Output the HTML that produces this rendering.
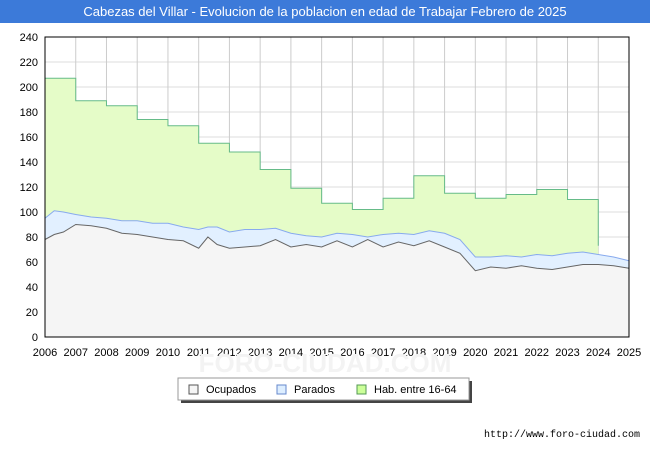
<!DOCTYPE html>
<html><head><meta charset="utf-8"><style>
body{margin:0;width:650px;height:450px;background:#fff;font-family:"Liberation Sans",sans-serif;overflow:hidden}
</style></head><body>
<svg width="650" height="450" xmlns="http://www.w3.org/2000/svg">
<rect x="0" y="0" width="650" height="23" fill="#3c7ad9"/>
<text x="325" y="16" text-anchor="middle" font-size="13" fill="#fff" font-family="Liberation Sans">Cabezas del Villar - Evolucion de la poblacion en edad de Trabajar Febrero de 2025</text>
<g id="grid"></g>
<g id="series"></g>
<g id="axes"></g>
<text x="325" y="372" text-anchor="middle" font-size="26" fill="#f3f3f3" font-weight="bold">FORO-CIUDAD.COM</text>
<rect x="181" y="381" width="291" height="22" fill="#444"/>
<g>
<rect x="178" y="378" width="291" height="22" fill="#fff" stroke="#999"/>
<rect x="189" y="385" width="9" height="9" fill="#f5f5f5" stroke="#555"/>
<text x="206" y="393" font-size="11" fill="#000">Ocupados</text>
<rect x="277" y="385" width="9" height="9" fill="#ddeeff" stroke="#6688cc"/>
<text x="294" y="393" font-size="11" fill="#000">Parados</text>
<rect x="357" y="385" width="9" height="9" fill="#ccff99" stroke="#559955"/>
<text x="374" y="393" font-size="11" fill="#000">Hab. entre 16-64</text>
</g>
<text x="640" y="437" text-anchor="end" font-size="10" fill="#000" font-family="Liberation Mono">http://www.foro-ciudad.com</text>
</svg>
<script>
const years=[2006,2007,2008,2009,2010,2011,2012,2013,2014,2015,2016,2017,2018,2019,2020,2021,2022,2023];
const habValues=[207,189,185,174,169,155,148,134,119,107,102,111,129,115,111,114,118,110];
const habEndValue=73;
const sampleTimes=[2006,2006.3,2006.6,2007,2007.5,2008,2008.5,2009,2009.5,2010,2010.5,2011,2011.3,2011.6,2012,2012.5,2013,2013.5,2014,2014.5,2015,2015.5,2016,2016.5,2017,2017.5,2018,2018.5,2019,2019.5,2020,2020.5,2021,2021.5,2022,2022.5,2023,2023.5,2024,2024.5,2025];
const ocupados=[78,82,84,90,89,87,83,82,80,78,77,71,80,74,71,72,73,78,72,74,72,77,72,78,72,76,73,77,72,67,53,56,55,57,55,54,56,58,58,57,55];
const parados=[17,19,16,8,7,8,10,11,11,13,11,15,8,14,13,14,13,9,11,7,8,6,10,2,10,7,9,8,11,11,11,8,10,7,11,11,11,10,8,7,6];
const yTicks=[0,20,40,60,80,100,120,140,160,180,200,220,240];
const xTickYears=[2006,2007,2008,2009,2010,2011,2012,2013,2014,2015,2016,2017,2018,2019,2020,2021,2022,2023,2024,2025];
const NS="http://www.w3.org/2000/svg";
const X0=45,X1=629,Y0=337,Y1=37;
const xs=t=>X0+(t-2006)*(X1-X0)/19;
const ys=v=>Y0-v*(Y0-Y1)/240;
function mk(tag,attrs,parent){const e=document.createElementNS(NS,tag);for(const k in attrs)e.setAttribute(k,attrs[k]);parent.appendChild(e);return e;}
const grid=document.getElementById('grid'),ser=document.getElementById('series'),ax=document.getElementById('axes');
yTicks.forEach(v=>{const l=mk('line',{x1:X0,x2:X1,y1:ys(v),y2:ys(v),stroke:'#dddddd'},grid);


const t=mk('text',{x:X0-7,y:ys(v)+4,'text-anchor':'end','font-size':11,fill:'#000'},ax);t.textContent=v;

});
xTickYears.forEach(y=>{const l=mk('line',{x1:xs(y),x2:xs(y),y1:Y1,y2:Y0,stroke:'#cccccc'},grid);


const t=mk('text',{x:xs(y),y:Y0+19,'text-anchor':'middle','font-size':11,fill:'#000'},ax);t.textContent=y;

});
let hp=[];years.forEach((y,i)=>{hp.push([xs(y),ys(habValues[i])]);hp.push([xs(y+1),ys(habValues[i])]);});
hp.push([xs(2024),ys(habEndValue)]);
const habArea=mk('path',{d:'M'+xs(2006)+','+Y0+' '+hp.map(p=>'L'+p[0]+','+p[1]).join(' ')+' L'+xs(2024)+','+Y0+'Z',fill:'#e5fcc8'},ser);


const habLine=mk('path',{d:'M'+hp.map(p=>p[0]+','+p[1]).join(' L'),fill:'none',stroke:'#66bb88','stroke-width':1},ser);


const topPts=sampleTimes.map((t,i)=>[xs(t),ys(ocupados[i]+parados[i])]);
const ocPts=sampleTimes.map((t,i)=>[xs(t),ys(ocupados[i])]);
const parArea=mk('path',{d:'M'+topPts.map(p=>p[0]+','+p[1]).join(' L')+' L'+ocPts.slice().reverse().map(p=>p[0]+','+p[1]).join(' L')+'Z',fill:'#e2f0ff'},ser);


const ocArea=mk('path',{d:'M'+X0+','+Y0+' L'+ocPts.map(p=>p[0]+','+p[1]).join(' L')+' L'+X1+','+Y0+'Z',fill:'#f5f5f5'},ser);


const parLine=mk('path',{d:'M'+topPts.map(p=>p[0]+','+p[1]).join(' L'),fill:'none',stroke:'#88aaee','stroke-width':1},ser);


const ocLine=mk('path',{d:'M'+ocPts.map(p=>p[0]+','+p[1]).join(' L'),fill:'none',stroke:'#666','stroke-width':1},ser);


const frame=mk('rect',{x:X0,y:Y1,width:X1-X0,height:Y0-Y1,fill:'none',stroke:'#000'},ax);


</script>
</body></html>
